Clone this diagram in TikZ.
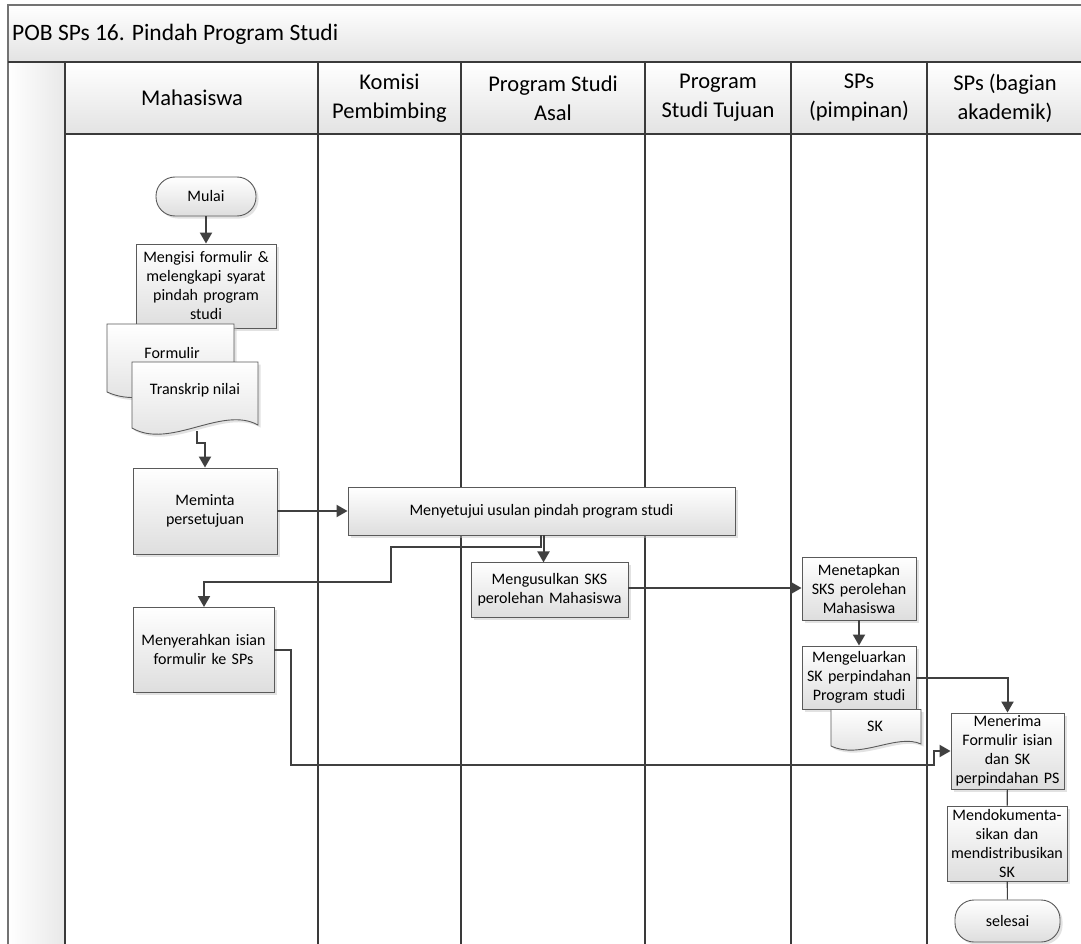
\documentclass[tikz,border=0pt]{standalone}
\usepackage{fontspec}
\setmainfont{Carlito}
\usetikzlibrary{arrows.meta,shadows,calc}
\definecolor{ln}{HTML}{404040}
\definecolor{bd}{HTML}{5A5A5A}
\definecolor{lane}{HTML}{3A3A3A}
\tikzset{
  proc/.style={rectangle, draw=bd, line width=0.9pt, top color=white, bottom color=black!13,
    drop shadow={shadow xshift=2.5pt, shadow yshift=-2.5pt, fill=black!25, opacity=0.45},
    align=center, font=\fontsize{16}{19}\selectfont, inner sep=1pt},
  term/.style={proc, rounded corners=19pt},
  docshape/.style={draw=bd, line width=0.9pt, top color=white, bottom color=black!13,
    drop shadow={shadow xshift=2.5pt, shadow yshift=-2.5pt, fill=black!25, opacity=0.45}},
  doctext/.style={font=\fontsize{16}{19}\selectfont, inner sep=0pt},
  flow/.style={draw=ln, line width=2pt, -{Triangle[length=11pt,width=12pt]}},
  flowplain/.style={draw=ln, line width=1.1pt},
  lanel/.style={draw=lane, line width=1.1pt},
  hdr/.style={align=center, font=\fontsize{22.5}{29}\selectfont, inner sep=0pt},
}
\begin{document}
\begin{tikzpicture}[x=1pt,y=-1pt]
\useasboundingbox (0,0) rectangle (1081,944);
\fill[white] (0,0) rectangle (1081,944);
% title band and header
\shade[top color=white, bottom color=black!11] (8,5) rectangle (1081,62);
\shade[top color=white, bottom color=black!11] (65,62) rectangle (1081,134);
\shade[left color=white, right color=black!9] (8,62) rectangle (65,944);
\draw[black!55, line width=1.2pt] (1081,5) -- (8,5) -- (8,944);
\draw[lanel] (8,62) -- (1081,62);
\draw[lanel] (65,134) -- (1081,134);
\draw[lanel] (65,62) -- (65,944);
\foreach \xx in {318,461,645,791,927} {\draw[lanel] (\xx,62) -- (\xx,944);}
\node[anchor=west, font=\fontsize{23.5}{29}\selectfont, inner sep=0pt] (title) at (12,34) {POB SPs 16. Pindah Program Studi};
\node[hdr] (h1) at (192,98) {Mahasiswa};
\node[hdr] (h2) at (389.5,98) {Komisi\\Pembimbing};
\node[hdr] (h3) at (553,98) {Program Studi\\Asal};
\node[hdr] (h4) at (718,98) {Program\\Studi Tujuan};
\node[hdr] (h5) at (859,98) {SPs\\(pimpinan)};
\node[hdr] (h6) at (1005,98) {SPs (bagian\\akademik)};
% Mahasiswa lane
\node[term, minimum width=100pt, minimum height=39pt] (mulai) at (206,196.5) {Mulai};
\node[proc, minimum width=140pt, minimum height=84pt, text width=138pt] (mengisi) at (206,286) {Mengisi formulir \&\\melengkapi syarat\\pindah program\\studi};
% Formulir document
\shadedraw[docshape] (107,324) -- (234,324) -- (234,388) .. controls (200,370) and (150,412) .. (107,392) -- cycle;
\node[doctext] (formulir) at (172,353) {Formulir};
% Transkrip document
\shadedraw[docshape] (132,362) -- (258,362) -- (258,425) .. controls (222,405) and (170,450) .. (132,428) -- cycle;
\node[doctext] (transkrip) at (195,390) {Transkrip nilai};
\coordinate (tb) at (197,431);
\node[proc, minimum width=144pt, minimum height=86pt, text width=142pt] (meminta) at (205,511) {Meminta\\persetujuan};
\node[proc, minimum width=141pt, minimum height=85pt, text width=139pt] (menyerahkan) at (203.5,649.5) {Menyerahkan isian\\formulir ke SPs};
% Komisi / PS asal
\node[proc, minimum width=387pt, minimum height=48pt] (menyetujui) at (541.5,511) {Menyetujui usulan pindah program studi};
\node[proc, minimum width=157pt, minimum height=55pt, text width=155pt] (mengusulkan) at (549.5,589.5) {Mengusulkan SKS\\perolehan Mahasiswa};
% SPs pimpinan
\node[proc, minimum width=114pt, minimum height=63pt, text width=112pt] (menetapkan) at (859,588.5) {Menetapkan\\SKS perolehan\\Mahasiswa};
\node[proc, minimum width=114pt, minimum height=63pt, text width=112pt] (mengeluarkan) at (859,677.5) {Mengeluarkan\\SK perpindahan\\Program studi};
\shadedraw[docshape] (831,709.5) -- (921,709.5) -- (921,744) .. controls (897,733) and (860,760) .. (831,746) -- cycle;
\node[doctext] (sk) at (875,726) {SK};
% SPs akademik
\node[proc, minimum width=113pt, minimum height=76pt, text width=111pt] (menerima) at (1007.5,751) {Menerima\\Formulir isian\\dan SK\\perpindahan PS};
\node[proc, minimum width=120pt, minimum height=75pt, text width=118pt] (mendok) at (1007,843.5) {Mendokumenta-\\sikan dan\\mendistribusikan\\SK};
\node[term, minimum width=105pt, minimum height=42pt] (selesai) at (1007.5,921) {selesai};
% connectors
\draw[flow] (mulai) -- (mengisi);
\draw[flow] (tb) -- (197,443) -| (meminta.north);
\draw[flow] (meminta.east) -- (menyetujui.west);
\draw[flow] ($(menyetujui.south)+(2,0)$) -- ($(menyetujui.south)+(2,27)$);
\draw[flow] ($(menyetujui.south)+(-1,0)$) |- (391,547) |- (204,582) -- (204,607);
\draw[flow] (mengusulkan.east |- 0,588) -- (menetapkan.west |- 0,588);
\draw[flow] (menetapkan) -- (mengeluarkan);
\draw[flow] (mengeluarkan.east) -| (menerima.north);
\draw[flow] (menyerahkan.east |- 0,650) -- (291,650) |- (934,765) |- (menerima.west);
\draw[flowplain] (menerima) -- (mendok);
\draw[flowplain] (mendok) -- (selesai);
\end{tikzpicture}
\end{document}
